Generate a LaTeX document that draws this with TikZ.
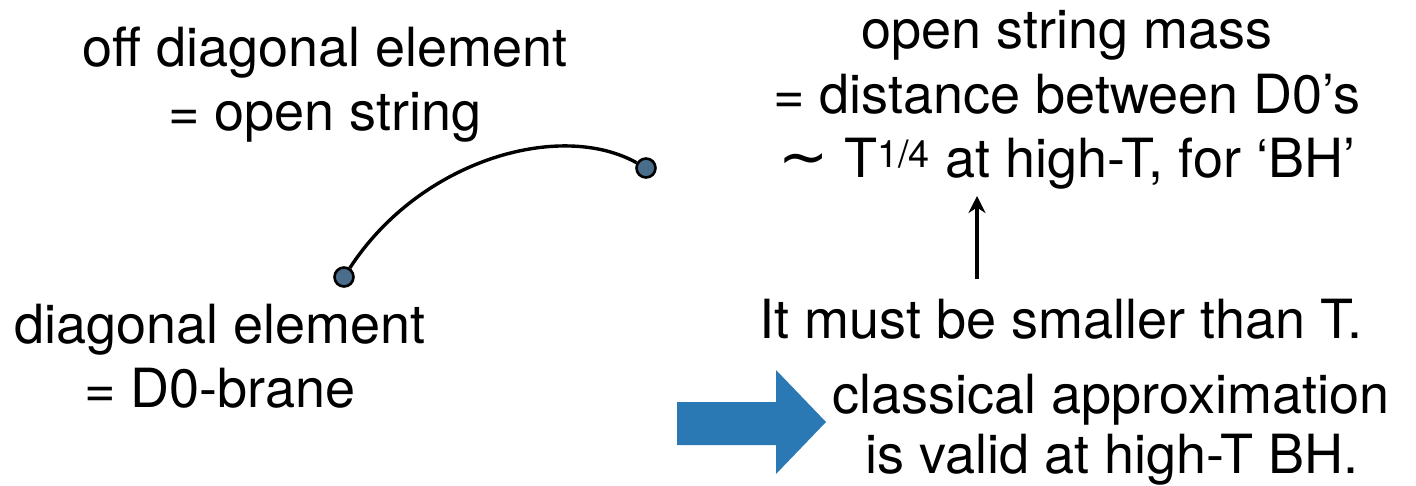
\documentclass[tikz,border=0pt]{standalone}
\usepackage{fontspec}
\setmainfont{TeX Gyre Heros}
\newfontfamily\symfont{DejaVu Sans}
\usetikzlibrary{arrows.meta}
\definecolor{dotblue}{HTML}{4A6D8C}
\definecolor{bigblue}{HTML}{2A79B5}
\tikzset{
  txt/.style={anchor=base,inner sep=0pt,font=\fontsize{54}{64}\selectfont},
  dotnode/.style={circle,draw=black,line width=2.6pt,fill=dotblue,minimum size=19pt,inner sep=0pt},
  strline/.style={line width=3.4pt,black},
  uparrow/.style={line width=3.2pt,-{Stealth[length=17pt,width=17pt]}},
  bigarrow/.style={fill=bigblue,draw=none}
}
\begin{document}
\begin{tikzpicture}[x=1pt,y=-1pt]
\useasboundingbox (0,0) rectangle (1416,485);
% left top
\node[txt] (od1) at (325,66) {off diagonal element};
\node[txt] (od2) at (325,130) {= open string};
% left bottom
\node[txt] (de1) at (220,343) {diagonal element};
\node[txt] (de2) at (220,407) {= D0-brane};
% right top
\node[txt] (om1) at (1067,48) {open string mass};
\node[txt] (om2) at (1067,113) {= distance between D0’s};
\node[txt] (om3) at (1067,177) {{\symfont\fontsize{60}{64}\selectfont ∼} T\textsuperscript{1/4} at high-T, for ‘BH’};
\node[txt] (must) at (1061,338) {It must be smaller than T.};
\node[txt] (cl1) at (1111,413) {classical approximation};
\node[txt] (cl2) at (1112,473) {is valid at high-T BH.};
% string
\node[dotnode] (d1) at (344,277) {};
\node[dotnode] (d2) at (646,168) {};
\draw[strline] (d1) .. controls (420,160) and (560,120) .. (d2);
% small arrow
\coordinate (abot) at (977,279);
\coordinate (atop) at (977,196);
\draw[uparrow] (abot) -- (atop);
% big arrow
\fill[bigarrow] (677,402) -- (776,402) -- (776,370) -- (826,422) -- (776,474) -- (776,445) -- (677,445) -- cycle;
\end{tikzpicture}
\end{document}
